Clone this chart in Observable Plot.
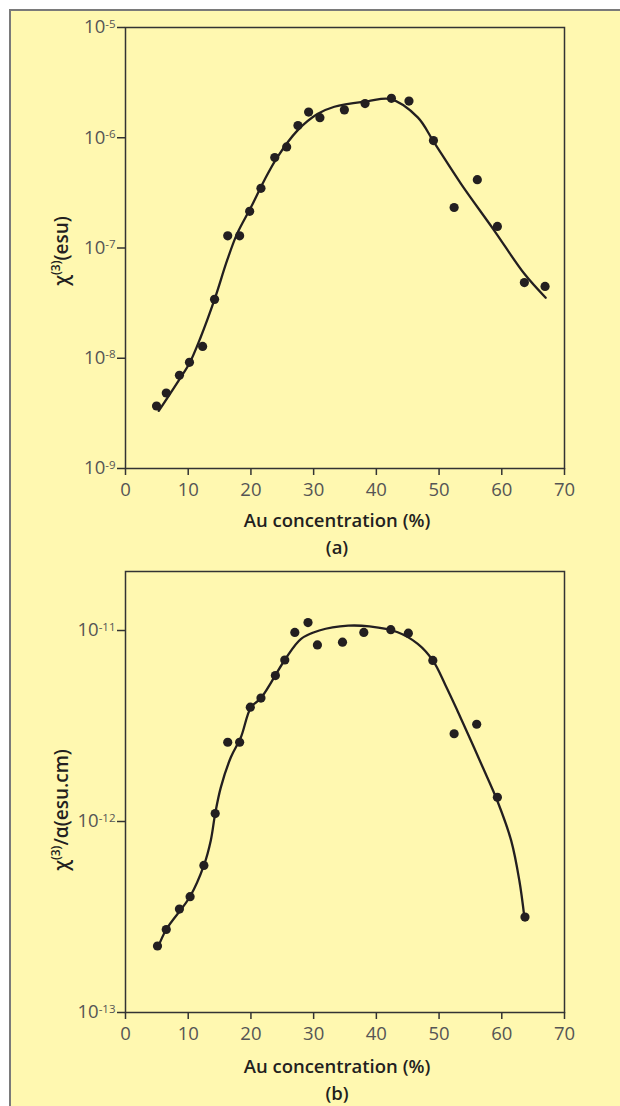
<!DOCTYPE html>
<html><head><meta charset="utf-8">
<script src="https://cdn.jsdelivr.net/npm/d3@7"></script>
<script src="https://cdn.jsdelivr.net/npm/@observablehq/plot@0.6"></script>
<style>
html,body{margin:0;padding:0;background:#fff;}
#page{position:relative;width:620px;height:1106px;overflow:hidden;background:#fff;}
#panel{position:absolute;left:9px;top:9px;width:700px;height:1200px;background:#fff8b0;border:2px solid #7a7a7a;box-sizing:border-box;}
.chart{position:absolute;left:0;}
.chart svg g[aria-label$="tick label"] text{font-size:18.5px !important;font-family:"Open Sans",sans-serif !important;fill:#555 !important;}
.chart svg g[aria-label$="tick label"] text tspan.ex{font-size:11.5px !important;}
.txt{position:absolute;font-family:"Open Sans",sans-serif;color:#231f20;font-weight:600;font-size:18.5px;white-space:nowrap;line-height:1;}
.ylab{font-size:19px;}
.sup{font-size:12px;position:relative;top:-8px;}
</style>
</head><body>
<div id="page">
  <div id="panel"></div>
  <div id="chartA" class="chart" style="top:0px"></div>
  <div id="chartB" class="chart" style="top:545px"></div>
  <div class="txt ylab" style="left:61px;top:251px;transform:translate(-50%,-50%) rotate(-90deg)">χ<span class="sup">(3)</span>(esu)</div>
  <div class="txt ylab" style="left:61px;top:810px;transform:translate(-50%,-50%) rotate(-90deg)">χ<span class="sup">(3)</span>/α(esu.cm)</div>
  <div class="txt" style="left:337px;top:520px;transform:translate(-50%,-50%)">Au concentration (%)</div>
  <div class="txt" style="left:337px;top:547px;transform:translate(-50%,-50%)">(a)</div>
  <div class="txt" style="left:337px;top:1066px;transform:translate(-50%,-50%)">Au concentration (%)</div>
  <div class="txt" style="left:337px;top:1093px;transform:translate(-50%,-50%)">(b)</div>
</div>
<script>
// ---- data ----
const xTicks = [0, 10, 20, 30, 40, 50, 60, 70];
const yTicksA = [1e-9, 1e-8, 1e-7, 1e-6, 1e-5];
const yTicksB = [1e-13, 1e-12, 1e-11];

// (a) measured chi(3) (esu) vs Au concentration (%)
const concA = [4.95, 6.5, 8.6, 10.2, 12.3, 14.2, 16.3, 18.2, 19.8, 21.6, 23.8, 25.7, 27.5, 29.2, 31.0, 34.9, 38.2, 42.4, 45.2, 49.1, 52.4, 56.1, 59.3, 63.6, 66.9];
const chi3 = [3.69e-9, 4.84e-9, 7.0e-9, 9.18e-9, 1.28e-8, 3.42e-8, 1.29e-7, 1.29e-7, 2.15e-7, 3.48e-7, 6.61e-7, 8.26e-7, 1.29e-6, 1.71e-6, 1.52e-6, 1.79e-6, 2.04e-6, 2.28e-6, 2.15e-6, 9.42e-7, 2.33e-7, 4.17e-7, 1.57e-7, 4.86e-8, 4.48e-8];
// (a) fitted curve
const fitConcA = [5.3, 8.5, 10.2, 12.0, 14.2, 16.2, 17.8, 20.0, 22.1, 24.2, 27.4, 30.6, 33.3, 38.6, 42.3, 46.6, 49.2, 53.5, 58.8, 63.6, 67.0];
const fitChi3 = [3.33e-9, 6.31e-9, 9.0e-9, 1.56e-8, 3.42e-8, 7.71e-8, 1.35e-7, 2.34e-7, 4.08e-7, 6.64e-7, 1.16e-6, 1.64e-6, 1.91e-6, 2.14e-6, 2.24e-6, 1.53e-6, 9.08e-7, 3.82e-7, 1.44e-7, 5.83e-8, 3.54e-8];

// (b) measured chi(3)/alpha (esu.cm)
const concB = [5.1, 6.5, 8.6, 10.3, 12.5, 14.3, 16.3, 18.2, 19.9, 21.6, 23.9, 25.4, 27.0, 29.1, 30.6, 34.6, 38.0, 42.3, 45.1, 49.0, 52.4, 56.0, 59.3, 63.7];
const chi3Alpha = [2.23e-13, 2.72e-13, 3.48e-13, 4.04e-13, 5.89e-13, 1.10e-12, 2.60e-12, 2.60e-12, 3.97e-12, 4.43e-12, 5.81e-12, 7.01e-12, 9.77e-12, 1.10e-11, 8.41e-12, 8.69e-12, 9.77e-12, 1.01e-11, 9.68e-12, 6.97e-12, 2.88e-12, 3.23e-12, 1.34e-12, 3.16e-13];
// (b) fitted curve
const fitConcB = [5.1, 6.5, 10.3, 12.5, 13.6, 14.3, 15.2, 16.8, 18.4, 20.0, 21.6, 25.4, 28.0, 30.9, 35.5, 38.9, 43.4, 46.6, 49.0, 51.0, 53.0, 55.0, 57.0, 59.3, 61.5, 62.8, 63.6];
const fitChi3Alpha = [2.16e-13, 2.72e-13, 4.05e-13, 5.89e-13, 7.96e-13, 1.10e-12, 1.51e-12, 2.17e-12, 2.76e-12, 3.96e-12, 4.43e-12, 7.01e-12, 9.04e-12, 1.00e-11, 1.06e-11, 1.05e-11, 9.79e-12, 8.51e-12, 6.97e-12, 5.19e-12, 3.76e-12, 2.69e-12, 1.91e-12, 1.28e-12, 7.94e-13, 4.91e-13, 3.16e-13];

const toRows = (xs, ys) => xs.map((x, i) => ({x, y: ys[i]}));

function makeChart(opts) {
  const svg = Plot.plot({
    width: 620, height: 500,
    marginLeft: 125, marginRight: 56, marginTop: opts.marginTop, marginBottom: opts.marginBottom,
    style: {background: "transparent", fontFamily: "'Open Sans', sans-serif", fontSize: "18px", color: "#4d4d4d", overflow: "visible"},
    x: {domain: [0, 70]},
    y: {type: "log", domain: opts.yDomain},
    marks: [
      Plot.frame({stroke: "#333", strokeWidth: 1.5}),
      Plot.axisX({ticks: xTicks, tickSize: 7, tickPadding: 7, label: null, tickFormat: d => String(d)}),
      Plot.axisY({ticks: opts.yTicks, tickSize: 8, tickPadding: 2, label: null,
        tickFormat: d => "10|" + String(Math.round(Math.log10(d)))}),
      Plot.line(toRows(opts.fitX, opts.fitY), {x: "x", y: "y", curve: "catmull-rom", stroke: "#231f20", strokeWidth: 2.3}),
      Plot.dot(toRows(opts.ptX, opts.ptY), {x: "x", y: "y", r: 4.6, fill: "#231f20", stroke: "none"})
    ]
  });
  const s = d3.select(svg);
  s.selectAll('g[aria-label="x-axis tick"], g[aria-label="y-axis tick"]').attr("stroke", "#333").attr("stroke-width", 1.5);
  s.selectAll('g[aria-label="y-axis tick label"] text').each(function () {
    const parts = this.textContent.split("|");
    if (parts.length < 2) return;
    this.textContent = parts[0];
    d3.select(this).append("tspan").attr("class", "ex").attr("dy", "-0.5em").text(parts[1]);
  });
  document.getElementById(opts.id).appendChild(svg);
}

makeChart({id: "chartA", marginTop: 27, marginBottom: 32, yDomain: [1e-9, 1e-5], yTicks: yTicksA,
  ptX: concA, ptY: chi3, fitX: fitConcA, fitY: fitChi3});
makeChart({id: "chartB", marginTop: 26, marginBottom: 33, yDomain: [1e-13, Math.pow(10, -10.691)], yTicks: yTicksB,
  ptX: concB, ptY: chi3Alpha, fitX: fitConcB, fitY: fitChi3Alpha});
</script>
</body></html>
